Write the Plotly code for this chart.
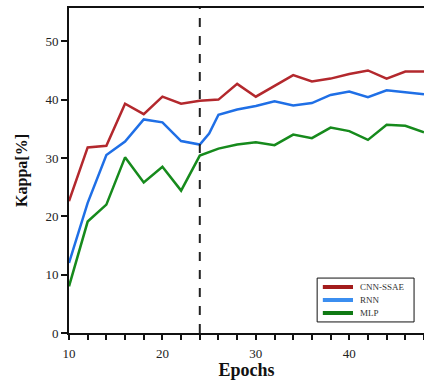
import plotly.graph_objects as go

epochs = [10, 12, 14, 16, 18, 20, 22, 24, 26, 28, 30, 32, 34, 36, 38, 40, 42, 44, 46, 48]
cnn_ssae = [22.6, 31.8, 32.1, 39.3, 37.5, 40.5, 39.3, 39.8, 40.0, 42.7, 40.5, 42.4, 44.2, 43.1, 43.6, 44.4, 45.0, 43.6, 44.8, 44.8]
rnn_epochs = [10, 12, 14, 16, 18, 20, 22, 24, 25, 26, 28, 30, 32, 34, 36, 38, 40, 42, 44, 46, 48]
rnn = [12.0, 22.3, 30.5, 32.8, 36.6, 36.1, 32.9, 32.3, 34.2, 37.4, 38.3, 38.9, 39.7, 39.0, 39.4, 40.8, 41.4, 40.4, 41.6, 41.3, 40.9]
mlp = [8.0, 19.1, 22.0, 30.1, 25.8, 28.5, 24.4, 30.4, 31.6, 32.3, 32.7, 32.2, 34.0, 33.4, 35.2, 34.6, 33.1, 35.7, 35.5, 34.4]
series_names = ["CNN-SSAE", "RNN", "MLP"]
x_ticks = [10, 20, 30, 40]
y_ticks = [0, 10, 20, 30, 40, 50]
split_epoch = 24

line_colors = ["#b3282d", "#1f6fe6", "#168a1c"]
legend_colors = ["#a31c1c", "#3b8ef0", "#107a14"]

fig = go.Figure()
for xs, ys, name, col in zip([epochs, rnn_epochs, epochs], [cnn_ssae, rnn, mlp], series_names, line_colors):
    fig.add_trace(go.Scatter(x=xs, y=ys, mode="lines", name=name,
                             line=dict(color=col, width=2.5), showlegend=False))

fig.add_shape(type="line", x0=split_epoch, x1=split_epoch, y0=0, y1=1,
              xref="x", yref="paper", line=dict(color="#222222", width=2, dash="dash"))

serif = "Liberation Serif, Times New Roman, serif"

# compact legend box (paper coordinates)
fig.add_shape(type="rect", xref="paper", yref="paper", x0=0.699, x1=0.972, y0=0.034, y1=0.169,
              line=dict(color="#111111", width=1), fillcolor="white", layer="above")
row_y = [0.1415, 0.1015, 0.0615]
for name, col, yy in zip(series_names, legend_colors, row_y):
    fig.add_shape(type="line", xref="paper", yref="paper", x0=0.715, x1=0.80, y0=yy, y1=yy,
                  line=dict(color=col, width=4), layer="above")
    fig.add_annotation(xref="paper", yref="paper", x=0.814, y=yy, text=name, showarrow=False,
                       xanchor="left", yanchor="middle",
                       font=dict(family=serif, size=9, color="#333333"))

fig.update_layout(
    width=424, height=380,
    margin=dict(l=69, r=0, t=8, b=47),
    paper_bgcolor="white", plot_bgcolor="white",
    font=dict(family=serif, color="#222222", size=13),
    showlegend=False,
    xaxis=dict(range=[10, 48], tickvals=x_ticks, ticks="outside", ticklen=5,
               tickwidth=2, tickcolor="#111111", ticklabelstandoff=2,
               minor=dict(dtick=2, tick0=10, ticks="outside", ticklen=5, tickwidth=2, tickcolor="#111111"),
               showline=True, linecolor="#111111", linewidth=2, mirror=True,
               showgrid=False, zeroline=False,
               tickfont=dict(family=serif, size=13, color="#222222"),
               title=dict(text="<b>Epochs</b>", font=dict(family=serif, size=18, color="#111111"), standoff=2)),
    yaxis=dict(range=[0, 55.7], tickvals=y_ticks, ticks="outside", ticklen=6,
               tickwidth=2, tickcolor="#111111",
               showline=True, linecolor="#111111", linewidth=2,
               showgrid=False, zeroline=False,
               tickfont=dict(family=serif, size=13, color="#222222"),
               title=dict(text="<b>Kappa[%]</b>", font=dict(family=serif, size=16, color="#111111"), standoff=14)),
)

fig.write_html("out.html")
